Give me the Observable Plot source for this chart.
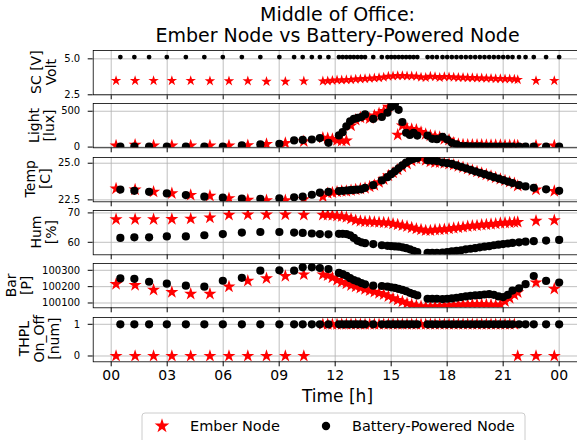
<!DOCTYPE html>
<html><head><meta charset="utf-8">
<script src="https://cdn.jsdelivr.net/npm/d3@7"></script>
<script src="https://cdn.jsdelivr.net/npm/@observablehq/plot@0.6"></script>
<style>
html,body{margin:0;padding:0;background:#fff;}
#chart{position:relative;width:577px;height:440px;overflow:hidden;font-family:"DejaVu Sans",sans-serif;}
#chart svg{position:absolute;left:0;max-width:none !important;}
</style></head><body><div id="chart"></div>
<script>
// ---------- data ----------
const hourTicks = [0,3,6,9,12,15,18,21,24];
const hourLabels = ["00","03","06","09","12","15","18","21","00"];
const seriesNames = ["Ember Node","Battery-Powered Node"];

const emberHours = [0.26,1.28,2.27,3.25,4.26,5.29,6.31,7.32,8.32,9.33,10.32,11.34,
 11.6,11.85,12.1,12.35,12.6,12.85,13.1,13.35,13.6,13.85,14.1,14.35,14.6,14.85,15.1,15.35,15.6,15.85,16.1,16.35,16.6,16.85,17.1,17.35,17.6,17.85,18.1,18.35,18.6,18.85,19.1,19.35,19.6,19.85,20.1,20.35,20.6,20.85,21.1,21.35,21.6,
 21.78,22.76,23.74];
const battHours = [0.49,1.24,2.03,2.98,4.0,4.99,5.98,7.0,7.99,9.01,9.8,10.26,10.75,11.18,11.64,
 12.2,12.4,12.6,12.8,13.0,13.2,13.4,
 13.6,14.04,14.5,
 14.8,15.0,15.2,15.4,15.6,15.8,16.0,16.2,16.4,
 16.95,17.2,17.45,
 17.75,18.0,18.25,18.5,18.75,19.0,19.25,19.5,19.75,20.0,20.25,20.5,20.75,21.0,21.25,21.5,
 21.85,22.2,22.64,23.3,24.0];

const emberSC = [3.48,3.48,3.48,3.48,3.48,3.46,3.46,3.46,3.42,3.42,3.45,3.45,
 3.46,3.5,3.52,3.52,3.54,3.55,3.58,3.6,3.62,3.64,3.66,3.68,3.72,3.78,3.8,3.82,3.82,3.8,3.8,3.78,3.72,3.7,3.78,3.76,3.7,3.76,3.74,3.72,3.7,3.7,3.68,3.68,3.66,3.66,3.64,3.64,3.62,3.62,3.6,3.6,3.58,
 3.55,3.48,3.48];
const battSC = [5.12,5.12,5.12,5.12,5.12,5.12,5.12,5.12,5.12,5.12,5.12,5.12,5.12,5.12,5.12,
 5.12,5.12,5.12,5.12,5.12,5.12,5.12,
 5.12,5.12,5.12,
 5.12,5.12,5.12,5.12,5.12,5.12,5.12,5.12,5.12,
 5.12,5.12,5.12,
 5.12,5.12,5.12,5.12,5.12,5.12,5.12,5.12,5.12,5.12,5.12,5.12,5.12,5.12,5.12,5.12,
 5.12,5.12,5.12,5.12,5.12];

const emberLight = [20,30,20,20,20,20,20,25,40,55,80,130,
 120,110,95,85,90,300,380,410,420,400,440,470,500,560,600,170,300,260,250,240,210,180,160,150,140,110,100,60,40,35,30,30,30,30,28,28,28,28,25,25,25,
 20,20,20];
const battLight = [5,5,5,5,5,5,5,23,37,46,93,100,106,125,60,
 162,208,290,360,393,407,420,
 455,393,420,
 480,560,600,520,350,200,170,200,160,
 160,115,110,
 144,106,60,37,14,12,10,10,10,8,8,8,6,6,6,5,
 5,5,5,5,5];

const emberTemp = [23.27,23.2,23.05,22.94,22.83,22.77,22.61,22.5,22.46,22.46,22.54,22.72,
 22.95,23.0,23.05,23.1,23.1,23.15,23.2,23.25,23.3,23.4,23.5,23.7,23.9,24.15,24.35,24.55,24.75,24.95,25.15,25.3,25.35,25.2,25.1,25.05,25.05,25.0,24.95,24.88,24.8,24.72,24.62,24.52,24.42,24.33,24.22,24.12,24.02,23.92,23.82,23.72,23.62,
 23.45,23.2,23.1];
const battTemp = [23.2,23.12,23.05,22.94,22.83,22.72,22.65,22.59,22.57,22.61,22.68,22.72,22.85,22.99,23.05,
 23.1,23.12,23.14,23.16,23.18,23.2,23.22,
 23.32,23.5,23.83,
 24.05,24.25,24.45,24.65,24.85,25.05,25.2,25.3,25.35,
 25.2,25.18,25.15,
 25.05,25.0,24.95,24.85,24.75,24.65,24.55,24.45,24.35,24.25,24.15,24.05,23.95,23.85,23.75,23.65,
 23.5,23.42,23.32,23.22,23.12];

const emberHum = [67.8,67.8,67.8,67.9,68.0,68.4,69.3,69.4,69.4,69.4,69.3,69.3,
 69.3,69.2,69.0,68.8,68.5,68.0,67.5,67.2,67.0,67.0,66.9,66.8,66.7,66.6,66.3,66.0,65.7,65.4,65.0,64.6,64.3,64.0,64.0,64.2,64.3,64.4,64.6,64.8,65.0,65.2,65.4,65.6,65.7,65.9,66.0,66.2,66.3,66.5,66.6,66.7,66.8,
 66.9,67.3,67.5];
const battHum = [61.5,61.7,61.7,62.0,62.0,62.4,62.8,63.3,63.5,63.5,63.3,63.2,63.0,62.8,62.7,
 62.9,62.9,62.8,62.4,61.5,60.5,60.0,
 59.7,59.4,59.0,
 58.8,58.7,58.6,58.5,58.3,58.0,57.6,57.1,56.7,
 56.4,56.4,56.4,
 56.5,56.7,56.9,57.1,57.3,57.6,57.8,58.0,58.3,58.5,58.7,59.0,59.2,59.4,59.6,59.8,
 60.0,60.2,60.4,60.6,60.8];

const emberBar = [100215,100209,100180,100166,100156,100156,100200,100235,100250,100264,100274,100274,
 100268,100255,100240,100228,100218,100208,100200,100192,100184,100176,100168,100160,100152,100140,100128,100118,100108,100098,100090,100084,100080,100078,100078,100080,100080,100082,100084,100086,100088,100090,100090,100092,100092,100092,100090,100088,100086,100090,100110,100130,100150,
 100165,100225,100186];
const battBar = [100250,100248,100230,100218,100206,100200,100236,100254,100298,100300,100298,100318,100318,100314,100308,
 100284,100276,100266,100252,100240,100232,100222,
 100214,100206,100204,
 100200,100196,100192,100186,100180,100172,100162,100154,100146,
 100126,100126,100126,
 100124,100126,100128,100132,100136,100140,100144,100146,100148,100152,100154,100150,100140,100136,100150,100176,
 100190,100215,100265,100235,100225];

const emberTHPL = [0,0,0,0,0,0,0,0,0,0,0,1,
 1,1,1,1,1,1,1,1,1,1,1,1,1,1,1,1,1,1,1,1,1,1,1,1,1,1,1,1,1,1,1,1,1,1,1,1,1,1,1,1,1,
 0,0,0];
const battTHPL = [1,1,1,1,1,1,1,1,1,1,1,1,1,1,1,
 1,1,1,1,1,1,1,
 1,1,1,
 1,1,1,1,1,1,1,1,1,
 1,1,1,
 1,1,1,1,1,1,1,1,1,1,1,1,1,1,1,1,
 1,1,1,1,1];

const scTicks = [2.5, 5.0], lightTicks = [0, 500], tempTicks = [22.5, 25.0],
      humTicks = [60, 70], barTicks = [100100, 100200, 100300], thplTicks = [0, 1];
const yLabels = [["SC [V]","Volt"],["Light","[lux]"],["Temp","[C]"],["Hum","[%]"],["Bar","[P]"],["THPL","On_Off","[num]"]];

// ---------- layout ----------
const W = 600, FL = 92.7, FR = 582, FH = 44.3;
const tops = [50, 103.3, 156.6, 209.9, 263.2, 316.5];
const panels = [
  {e: emberSC, b: battSC, domain: [2.5, 5.58], ticks: scTicks, fmt: d3.format(".1f"), starR: 3.3, dotR: 2.4},
  {e: emberLight, b: battLight, domain: [-10, 608], ticks: lightTicks, fmt: d3.format("d"), starR: 4.1, dotR: 4.1},
  {e: emberTemp, b: battTemp, domain: [22.37, 25.39], ticks: tempTicks, fmt: d3.format(".1f"), starR: 4.1, dotR: 4.1},
  {e: emberHum, b: battHum, domain: [55.75, 70.82], ticks: humTicks, fmt: d3.format("d"), starR: 4.1, dotR: 4.1},
  {e: emberBar, b: battBar, domain: [100070.6, 100341.6], ticks: barTicks, fmt: d3.format("d"), starR: 4.1, dotR: 4.1},
  {e: emberTHPL, b: battTHPL, domain: [-0.183, 1.215], ticks: thplTicks, fmt: d3.format("d"), starR: 4.1, dotR: 4.1}
];

const chart = document.getElementById("chart");
panels.forEach((cfg, i) => {
  const last = i === panels.length - 1;
  const mt = 8, mb = last ? 30 : 8;
  const ember = emberHours.map((h, j) => ({h, v: cfg.e[j]}));
  const batt = battHours.map((h, j) => ({h, v: cfg.b[j]}));
  const svg = Plot.plot({
    width: W, height: FH + mt + mb,
    marginLeft: FL, marginRight: W - FR, marginTop: mt, marginBottom: mb,
    style: {fontFamily: "DejaVu Sans", fontSize: "10px", color: "black", background: "transparent", overflow: "visible"},
    x: {domain: [-0.964, 25.25], ticks: hourTicks, tickFormat: last ? (d => hourLabels[hourTicks.indexOf(d)]) : (() => ""), tickSize: 5, tickPadding: 3, label: null},
    y: {domain: cfg.domain, ticks: cfg.ticks, tickFormat: cfg.fmt, tickSize: 5, tickPadding: 8, label: null},
    marks: [
      Plot.ruleX(hourTicks, {stroke: "#b0b0b0", strokeWidth: 0.8}),
      Plot.ruleY(cfg.ticks, {stroke: "#b0b0b0", strokeWidth: 0.8}),
      Plot.dot(ember, {x: "h", y: "v", symbol: "star", r: cfg.starR, fill: "#ff0000", stroke: "none", clip: true}),
      Plot.dot(batt, {x: "h", y: "v", r: cfg.dotR, fill: "#000000", stroke: "none", clip: true}),
      Plot.frame({stroke: "black", strokeWidth: 0.8})
    ]
  });
  svg.style.top = (tops[i] - mt) + "px";
  svg.style.maxWidth = "none";
  svg.setAttribute("width", W);
  svg.style.width = W + "px";
  svg.style.height = (FH + mt + mb) + "px";
  if (last) {
    d3.select(svg).selectAll("text").filter(function () { return /^\d\d$/.test(this.textContent); })
      .style("font-size", "14px");
  }
  chart.appendChild(svg);
});

// ---------- overlay: titles, y labels, legend ----------
const ov = d3.select(chart).append("svg").attr("width", 577).attr("height", 440)
  .style("top", "0px").attr("font-family", "DejaVu Sans").attr("fill", "black");
ov.append("text").attr("x", 337.5).attr("y", 21).attr("text-anchor", "middle").attr("font-size", 19).text("Middle of Office:");
ov.append("text").attr("x", 337.5).attr("y", 42).attr("text-anchor", "middle").attr("font-size", 19).text("Ember Node vs Battery-Powered Node");
ov.append("text").attr("x", 337.5).attr("y", 402).attr("text-anchor", "middle").attr("font-size", 17).text("Time [h]");

const labelBase = [56.3, 54.1, 49.9, 55.5, 30.5, 58.8];
yLabels.forEach((lines, i) => {
  const cy = tops[i] + FH / 2;
  const n = lines.length;
  lines.forEach((t, k) => {
    const bx = labelBase[i] - (n - 1 - k) * 15;
    ov.append("text").attr("transform", `translate(${bx},${cy}) rotate(-90)`)
      .attr("text-anchor", "middle").attr("font-size", 14).text(t);
  });
});

const lg = ov.append("g");
lg.append("rect").attr("x", 142).attr("y", 413).attr("width", 383).attr("height", 32).attr("rx", 3)
  .attr("fill", "white").attr("stroke", "#cccccc").attr("stroke-width", 1);
lg.append("path").attr("transform", "translate(162,426)").attr("d", d3.symbol(d3.symbolStar, 67)()).attr("fill", "#ff0000");
lg.append("circle").attr("cx", 326).attr("cy", 426).attr("r", 4.2).attr("fill", "black");
lg.append("text").attr("x", 190).attr("y", 431).attr("font-size", 14.5).text(seriesNames[0]);
lg.append("text").attr("x", 352).attr("y", 431).attr("font-size", 14.5).text(seriesNames[1]);
</script></body></html>
